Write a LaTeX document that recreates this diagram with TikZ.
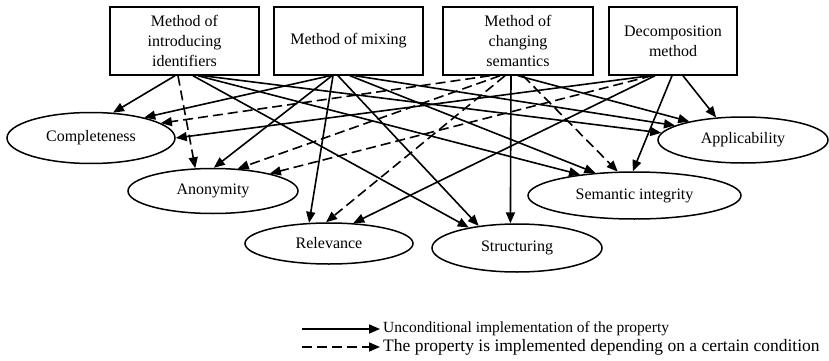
\documentclass[tikz,border=0pt]{standalone}
\usepackage{fontspec}
\setmainfont{Liberation Serif}
\usetikzlibrary{shapes.geometric,arrows.meta}
\newcommand{\lbl}{\fontsize{16}{20}\selectfont}

\begin{document}
\begin{tikzpicture}[x=1pt,y=-1pt,
  >={Triangle[length=11pt,width=9pt]},
  method/.style={draw,line width=1.5pt,minimum height=68pt,align=center,font=\lbl,inner sep=2pt},
  prop/.style={draw,ellipse,line width=1.5pt,inner sep=0pt,font=\lbl},
  uncond/.style={->,line width=1.6pt},
  cond/.style={->,line width=1.6pt,dash pattern=on 10pt off 5pt}]
  \useasboundingbox (0,0) rectangle (829,361);
  \node[method,minimum width=149pt] (ident)  at (184.5,41) {Method of\\introducing\\identifiers};
  \node[method,minimum width=149pt] (mix)    at (348.5,41) {Method of mixing};
  \node[method,minimum width=150pt] (sem)    at (518,41)   {Method of\\changing\\semantics};
  \node[method,minimum width=128pt] (decomp) at (673,41)   {Decomposition\\method};
  \node[prop,minimum width=168pt,minimum height=51pt] (comp)   at (91,138)     {Completeness};
  \node[prop,minimum width=170pt,minimum height=45pt] (anon)   at (213,191)    {Anonymity};
  \node[prop,minimum width=168pt,minimum height=41pt] (rel)    at (329,243.5)  {Relevance};
  \node[prop,minimum width=170pt,minimum height=48pt] (struct) at (517,248)    {Structuring};
  \node[prop,minimum width=213pt,minimum height=47pt] (semint) at (634.5,195.5){Semantic integrity};
  \node[prop,minimum width=170pt,minimum height=46pt] (appl)   at (743,140)    {Applicability};

  \draw[uncond] ([xshift=-9.5pt]ident.south) -- (comp.49);
  \draw[cond]   ([xshift=-6.5pt]ident.south) -- (anon.128);
  \draw[uncond] ([xshift=8.5pt]ident.south)  -- (struct.157);
  \draw[uncond] ([xshift=13.5pt]ident.south) -- (semint.159);
  \draw[uncond] ([xshift=18.5pt]ident.south) -- (appl.175);

  \draw[uncond] ([xshift=-18.5pt]mix.south) -- (comp.21);
  \draw[uncond] ([xshift=-16.5pt]mix.south) -- (anon.88);
  \draw[uncond] ([xshift=-15.5pt]mix.south) -- (rel.134);
  \draw[uncond] ([xshift=-10.5pt]mix.south) -- (struct.150);
  \draw[uncond] ([xshift=1.5pt]mix.south)   -- (semint.150);
  \draw[uncond] ([xshift=6.5pt]mix.south)   -- (appl.168);

  \draw[cond]   ([xshift=-28pt]sem.south) -- (comp.12);
  \draw[cond]   ([xshift=-18pt]sem.south) -- (anon.42);
  \draw[cond]   ([xshift=-13pt]sem.south) -- (rel.98);
  \draw[uncond] ([xshift=-7pt]sem.south)  -- (struct.105);
  \draw[cond]   ([xshift=5pt]sem.south)   -- (semint.125);
  \draw[uncond] ([xshift=0pt]sem.south)   -- (appl.161);

  \draw[uncond] ([xshift=-23pt]decomp.south) -- (comp.0);
  \draw[cond]   ([xshift=-21pt]decomp.south) -- (anon.17);
  \draw[uncond] ([xshift=-18pt]decomp.south) -- (rel.40);
  \draw[uncond] ([xshift=-1pt]decomp.south)  -- (semint.94);
  \draw[uncond] ([xshift=10pt]decomp.south)  -- (appl.140);

  \coordinate (ls1) at (302,329);
  \coordinate (ls2) at (302,347);
  \node[anchor=west,inner sep=3pt,font=\fontsize{15.5}{18}\selectfont] (lt1) at (380,329) {Unconditional implementation of the property};
  \node[anchor=west,inner sep=3pt,font=\fontsize{17.5}{20}\selectfont] (lt2) at (380,347) {The property is implemented depending on a certain condition};
  \draw[uncond] (ls1) -- (lt1.west);
  \draw[cond]   (ls2) -- (lt2.west);
\end{tikzpicture}
\end{document}
